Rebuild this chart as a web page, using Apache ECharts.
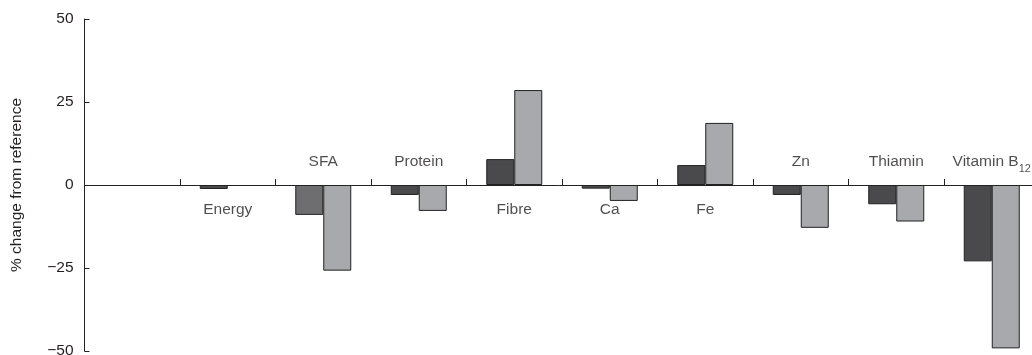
<!DOCTYPE html>
<html>
<head>
<meta charset="utf-8">
<script src="https://cdn.jsdelivr.net/npm/echarts@6/dist/echarts.min.js"></script>
<style>html,body{margin:0;padding:0;background:#fff}#c{width:1032px;height:355px}</style>
</head>
<body>
<div id="c"></div>
<script>
var categories = ['', 'Energy', 'SFA', 'Protein', 'Fibre', 'Ca', 'Fe', 'Zn', 'Thiamin', 'Vitamin B12'];
var labelsBelow = ['Energy', 'Fibre', 'Ca', 'Fe'];
var seriesDark = [null, -1.2, -9, -3, 7.8, -1.1, 6, -3, -5.8, -23];
var seriesLight = [null, null, -25.8, -7.8, 28.6, -4.8, 18.7, -12.9, -11, -49.2];
var yTicks = [-50, -25, 0, 25, 50];
var yName = '% change from reference';

var TXT = '#231f20';
var font = 'Liberation Sans, Arial, sans-serif';
var FS = 15.5;

function fmtLabel(v) {
  if (v === 'Vitamin B12') return '{mv|Vitamin B}{sub|12}';
  return '{m|' + v + '}';
}
var rich = {
  m: { fontSize: FS, fontFamily: font, color: TXT, lineHeight: 18, verticalAlign: 'bottom' },
  mv: { fontSize: FS, fontFamily: font, color: TXT, lineHeight: 18, verticalAlign: 'bottom', padding: [0, 0, 4, 0] },
  sub: { fontSize: 11, fontFamily: font, color: TXT, lineHeight: 14, verticalAlign: 'bottom' }
};

var darkData = seriesDark.map(function (v, i) {
  if (categories[i] === 'SFA') return { value: v, itemStyle: { color: '#6e6e70' } };
  return v;
});

var labelData = [];
categories.forEach(function (c) {
  if (!c) return;
  var below = labelsBelow.indexOf(c) >= 0;
  labelData.push({
    value: [c, 0],
    label: { position: below ? 'bottom' : 'top', distance: c === 'Vitamin B12' ? 11 : 15 }
  });
});

var chart = echarts.init(document.getElementById('c'));
chart.setOption({
  animation: false,
  grid: { left: 84.5, right: -7.5, top: 19, bottom: 4, containLabel: false, outerBoundsMode: 'none' },
  xAxis: {
    type: 'category', data: categories,
    axisLine: { onZero: true, lineStyle: { color: '#222', width: 1 } },
    axisTick: { show: true, inside: true, length: 6, interval: 0, lineStyle: { color: '#222' } },
    axisLabel: { show: false }
  },
  yAxis: {
    type: 'value', min: yTicks[0], max: yTicks[yTicks.length - 1], interval: 25,
    name: yName, nameLocation: 'middle', nameGap: 60, nameRotate: 90,
    nameTextStyle: { color: TXT, fontSize: FS, fontFamily: font },
    axisLine: { show: true, lineStyle: { color: '#222', width: 1 } },
    axisTick: { show: true, inside: true, length: 5, lineStyle: { color: '#222' } },
    splitLine: { show: false },
    axisLabel: {
      margin: 11, color: TXT, fontSize: FS, fontFamily: font,
      formatter: function (v) { return v < 0 ? '\u2212' + Math.abs(v) : String(v); }
    }
  },
  series: [{
    type: 'bar', data: darkData, barWidth: 28, barGap: '0%',
    itemStyle: { color: '#4a4a4c', borderColor: '#222', borderWidth: 1 }
  }, {
    type: 'bar', data: seriesLight, barWidth: 28, barGap: '0%',
    itemStyle: { color: '#a8a9ac', borderColor: '#222', borderWidth: 1 }
  }, {
    type: 'scatter', data: labelData, symbolSize: 0, silent: true, z: 5,
    label: {
      show: true, rich: rich,
      formatter: function (p) { return fmtLabel(p.value[0]); }
    }
  }]
});
</script>
</body>
</html>
